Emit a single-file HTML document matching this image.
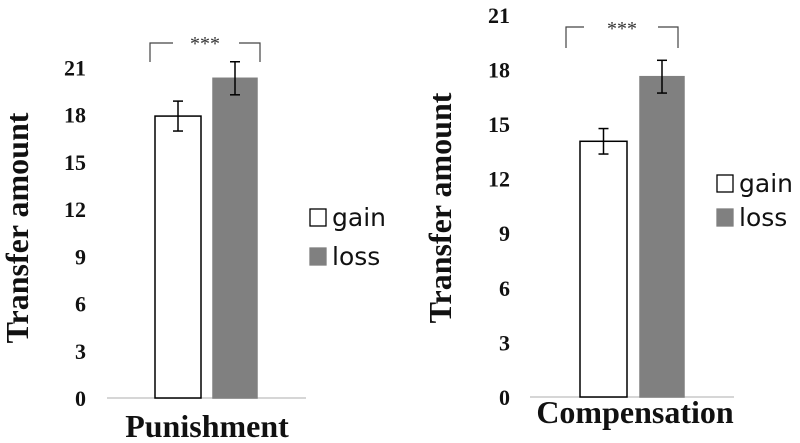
<!DOCTYPE html>
<html><head><meta charset="utf-8"><style>
html,body{margin:0;padding:0;background:#fff;}
svg{display:block;}
.tick{font-family:"Liberation Serif",serif;font-weight:bold;font-size:22px;fill:#111;}
.ttl{font-family:"Liberation Serif",serif;font-weight:bold;font-size:32px;fill:#111;}
.leg{font-family:"DejaVu Sans","Liberation Sans",sans-serif;font-size:25px;fill:#111;}
</style></head><body>
<svg id="c" width="800" height="443" viewBox="0 0 800 443"></svg>
<script>
const categories = ["Punishment", "Compensation"];
const series = ["gain", "loss"];
const gainValues = [17.9, 14.05];
const lossValues = [20.3, 17.6];
const gainErrors = [0.95, 0.7];
const lossErrors = [1.05, 0.9];
const tickLabels = [0, 3, 6, 9, 12, 15, 18, 21];

const NS = "http://www.w3.org/2000/svg";
const svg = document.getElementById("c");
function mk(tag, attrs, parent) {
  const e = document.createElementNS(NS, tag);
  for (const k in attrs) e.setAttribute(k, attrs[k]);
  (parent || svg).appendChild(e);
  return e;
}
const panels = [
  {y0:398, scale:15.75, ax0:107, ax1:306, lblX:86, gainX:155, gainW:46, lossX:213, lossW:44,
   titleX:17, titleY:228, catY:437, catX:207, bl:150, br:260, bTop:43, bBot:62, gl:173, gr:239, starY:40,
   legX:310, legY1:208, legY2:247},
  {y0:397, scale:18.2, ax0:530, ax1:734, lblX:510, gainX:580, gainW:47, lossX:640, lossW:44,
   titleX:440, titleY:208, catY:423, catX:635, bl:566, br:678, bTop:27, bBot:48, gl:584, gr:658, starY:25,
   legX:717, legY1:174, legY2:208}
];
panels.forEach((p, i) => {
  const g = mk("g", {});
  
  
  const y = v => p.y0 - v * p.scale;
  tickLabels.forEach(t => {
    const tx = mk("text", {x:p.lblX, y:y(t)+8, "text-anchor":"end", class:"tick"}, g);
    tx.textContent = t;
    
    
  });
  const ax = mk("line", {x1:p.ax0, x2:p.ax1, y1:p.y0, y2:p.y0, stroke:"#c8c8c8", "stroke-width":1.5}, g);
  
  
  const bars = [
    {x:p.gainX, w:p.gainW, v:gainValues[i], e:gainErrors[i], fill:"#fff", stroke:"#000", name:"gain"},
    {x:p.lossX, w:p.lossW, v:lossValues[i], e:lossErrors[i], fill:"#808080", stroke:"#808080", name:"loss"}
  ];
  bars.forEach(b => {
    const r = mk("rect", {x:b.x, y:y(b.v), width:b.w, height:p.y0 - y(b.v), fill:b.fill, stroke:b.stroke, "stroke-width":1.5}, g);
    
    
    const cx = b.x + b.w/2;
    const eg = mk("g", {stroke:"#000", "stroke-width":1.5}, g);
    
    
    mk("line", {x1:cx, x2:cx, y1:y(b.v+b.e), y2:y(b.v-b.e)}, eg);
    mk("line", {x1:cx-5, x2:cx+5, y1:y(b.v+b.e), y2:y(b.v+b.e)}, eg);
    mk("line", {x1:cx-5, x2:cx+5, y1:y(b.v-b.e), y2:y(b.v-b.e)}, eg);
  });
  const br = mk("path", {d:`M${p.bl},${p.bBot}V${p.bTop}H${p.gl}M${p.gr},${p.bTop}H${p.br}V${p.bBot}`, fill:"none", stroke:"#444", "stroke-width":1.2}, g);
  
  
  const st = mk("text", {x:(p.bl+p.br)/2, y:p.starY+10, "text-anchor":"middle", "font-family":"Liberation Serif,serif", "font-size":"20", fill:"#333"}, g);
  st.textContent = "***";
  
  
  const tt = mk("text", {x:0, y:0, "text-anchor":"middle", class:"ttl", transform:`translate(${p.titleX+11},${p.titleY}) rotate(-90)`}, g);
  tt.textContent = "Transfer amount";
  
  
  const ct = mk("text", {x:p.catX, y:p.catY, "text-anchor":"middle", class:"ttl"}, g);
  ct.textContent = categories[i];
  
  
  [[p.legY1, "#fff", "#000", series[0]], [p.legY2, "#808080", "#808080", series[1]]].forEach(L => {
    const lg = mk("g", {}, g);
    
    
    mk("rect", {x:p.legX, y:L[0]+1, width:16, height:17, fill:L[1], stroke:L[2], "stroke-width":1.3}, lg);
    const lt = mk("text", {x:p.legX+22, y:L[0]+18, class:"leg"}, lg);
    lt.textContent = L[3];
  });
});
</script>
</body></html>
